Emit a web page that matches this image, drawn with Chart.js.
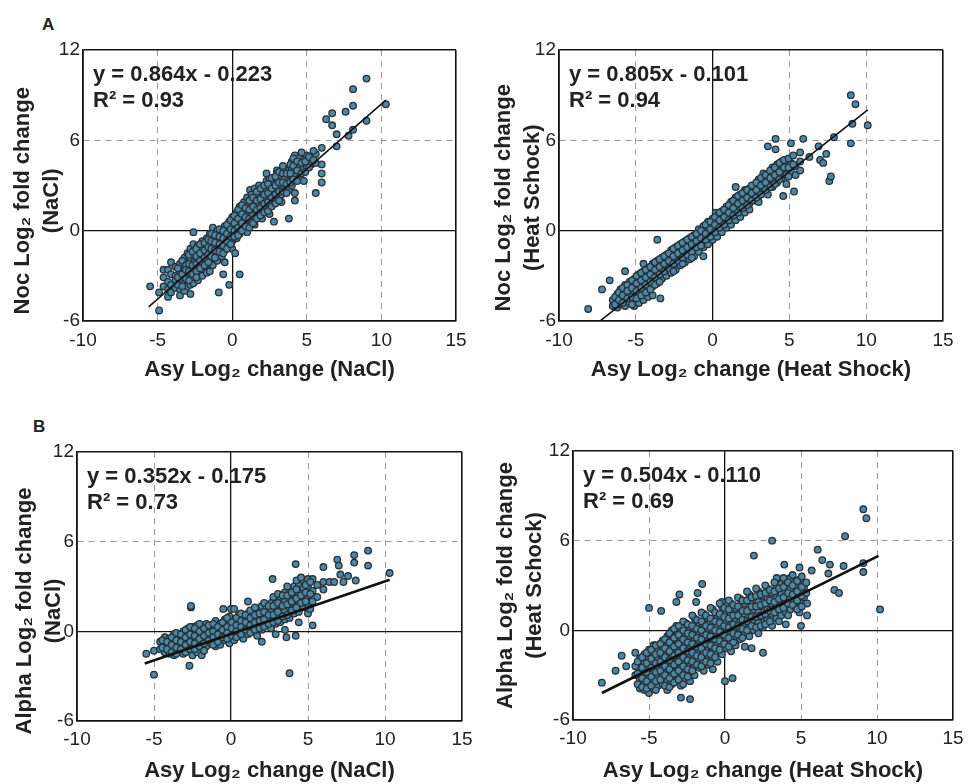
<!DOCTYPE html>
<html>
<head>
<meta charset="utf-8">
<script src="https://cdn.jsdelivr.net/npm/chart.js@4.4.1/dist/chart.umd.min.js"></script>
<style>
  body { margin: 0; background: #fff; }
  #wrap { position: relative; width: 971px; height: 784px; }
  canvas { position: absolute; }
  .tag { position: absolute; font: bold 17px "Liberation Sans", Arial, sans-serif; color: #222; }
</style>
</head>
<body>
<div id="wrap">
  <div class="tag" style="left:42px;top:15px">A</div>
  <div class="tag" style="left:33px;top:417px">B</div>
  <canvas id="nocNacl" width="480" height="392" style="left:0;top:0"></canvas>
  <canvas id="nocHeat" width="491" height="392" style="left:480px;top:0"></canvas>
  <canvas id="alphaNacl" width="480" height="392" style="left:0;top:392px"></canvas>
  <canvas id="alphaHeat" width="491" height="392" style="left:480px;top:392px"></canvas>
</div>
<script>
// axis ticks (same on all four panels)
const xTicks = [-10, -5, 0, 5, 10, 15];
const yTicks = [-6, 0, 6, 12];

// points, one row per x column: [x, y1, y2, ...]
const nocNaclPts = [
  [-5.5,-3.7],[-4.9,-5.3,-4.1],[-4.6,-3.1,-3.7,-2.6],[-4.3,-2.6,-3.4,-3.9,-4.4],[-4.1,-2.1,-2.9,-3.6,-4.1],
  [-3.8,-2.4,-3.0,-3.8,-3.3],[-3.5,-2.2,-2.7,-3.3,-3.9,-4.3],[-3.2,-1.8,-2.5,-3.0,-3.5,-4.0],[-3.0,-1.5,-2.1,-2.8,-3.3,-3.7],
  [-2.8,-1.2,-1.9,-2.4,-3.0,-3.6,-4.2],[-2.6,-0.1,-0.9,-1.6,-2.1,-2.6,-3.1,-3.5],[-2.3,-1.0,-1.4,-1.9,-2.4,-2.9,-3.3],
  [-2.0,-0.7,-1.2,-1.7,-2.2,-2.6,-3.0],[-1.7,-0.5,-1.0,-1.5,-1.9,-2.4,-2.8],[-1.5,-0.2,-0.8,-1.3,-1.7,-2.2,-2.7],
  [-1.3,0.2,-0.4,-0.9,-1.4,-1.9,-2.3],[-1.0,0.0,-0.6,-1.1,-1.6,-2.0],[-0.9,-4.1],[-0.7,-0.2,-0.7,-1.2,-1.7],[-0.6,-2.9],
  [-0.5,0.3,-0.3,-0.8,-1.3,-2.1],[-0.2,0.6,0.0,-0.5,-1.0,-3.6],[0.0,0.9,0.3,-0.2,-0.7,-1.2],[0.2,-1.5],
  [0.3,1.2,0.5,0.0,-0.5],[0.5,1.6,0.9,0.4,-0.2,-2.9],[0.8,1.9,1.3,0.7,0.2],[1.0,2.2,1.6,1.0,0.4,-0.1],[1.2,2.7],
  [1.3,2.4,1.8,1.3,0.7],[1.5,2.8,2.1,1.5,1.0,0.4],[1.8,3.0,2.5,2.3,1.7,1.2],[2.0,2.6,2.0,1.4,0.8],
  [2.3,3.8,3.3,2.7,2.1,1.5],[2.5,3.4,2.9,2.3,1.7,1.1],[2.8,3.2,2.6,2.0,0.6],[3.0,4.0,3.8,3.3,2.8,2.2],
  [3.3,3.6,3.0,2.4,1.9],[3.5,4.1,3.5,2.9],[3.8,4.0,3.3,2.7,0.8],[4.0,4.6,4.1,3.6,3.0],[4.2,5.0,4.4,3.8,2.5,2.0],
  [4.5,4.8,4.2,3.5],[4.8,4.7,4.1,3.3],[5.0,5.0,4.3],[5.3,4.8,4.4],[5.6,5.1,4.5,2.5],[6.0,5.5,3.2,3.8,4.4],
  [6.3,7.4],[6.7,7.8,7.0],[7.0,6.4,5.6],[7.6,7.9],[7.8,6.3],[8.1,9.4,8.3,6.7],[9.0,10.1,7.3],[10.3,8.4],
  [-3.65,-2.5,-3.1,-3.6],[-3.35,-2.0,-2.9,-3.7],[-3.1,-2.3,-2.6,-3.2],[-2.9,-1.6,-2.2,-2.7,-3.3],[-2.65,-1.4,-2.3,-2.9],
  [-2.4,-1.2,-1.7,-2.2,-2.7,-3.1],[-2.15,-0.9,-1.5,-2.0,-2.5],[-1.85,-0.8,-1.3,-1.8,-2.3],[-1.6,-0.6,-1.1,-1.6,-2.1],
  [-1.4,-0.2,-0.7,-1.2,-1.7],[-1.15,-0.3,-0.8,-1.3,-1.8],[-0.85,0.1,-0.4,-0.9,-1.4],[-0.6,0.0,-0.5,-1.0,-1.5],
  [-0.35,0.4,-0.2,-0.7,-1.2],[-0.1,0.7,0.1,-0.4,-0.9],[0.15,1.0,0.5,0.0,-0.4],[0.4,1.4,0.8,0.2,-0.3],
  [0.65,1.7,1.1,0.5,0.0],[0.9,1.5,0.9,0.3],[1.15,2.0,1.4,0.8,0.2],[1.4,2.2,1.6,1.0,0.5],[1.65,2.6,2.0,1.4,0.8],
  [1.9,2.8,2.1,1.5,1.0],[2.15,3.0,2.4,1.8,1.2],[2.4,3.1,2.5,1.9,1.3],[2.65,3.5,2.8,2.2,1.6],[2.9,3.6,3.0,2.4,1.8],
  [3.15,3.9,3.2,2.6,2.0],[3.4,4.3,3.8,3.2,2.6],[3.65,3.8,3.1,2.5],[3.9,4.4,3.8,3.2],[4.1,4.8,4.3,3.4],
  [4.35,4.6,4.0,3.3],[4.65,5.2,4.5,3.8],[4.9,4.6,3.9],[5.15,4.9,4.2],[5.45,5.3,4.7]
];
const nocHeatPts = [
  [-8.1,-5.2],[-7.2,-3.9],[-6.7,-3.3],[-6.5,-4.6,-5.0],[-6.2,-4.2,-4.7,-5.1],[-6.0,-3.9,-4.4,-4.9],
  [-5.7,-2.7,-3.6,-4.1,-4.6,-5.0],[-5.4,-3.4,-3.9,-4.3,-4.8],[-5.1,-3.2,-3.7,-4.1,-4.6,-5.0],[-4.8,-2.9,-3.4,-3.9,-4.3,-4.8],
  [-4.5,-2.2,-2.7,-3.2,-3.7,-4.1,-4.6],[-4.2,-2.5,-3.0,-3.5,-3.9,-4.4],[-3.9,-2.2,-2.8,-3.2,-3.7,-4.3],
  [-3.6,-0.6,-2.0,-2.5,-3.0,-3.5],[-3.4,-4.5],[-3.3,-1.8,-2.3,-2.8,-3.2],[-3.0,-1.6,-2.1,-2.6,-3.0],
  [-2.7,-1.3,-1.8,-2.3,-2.8],[-2.4,-1.1,-1.6,-2.1,-2.6],[-2.1,-0.9,-1.4,-1.9,-2.3],[-1.8,-0.7,-1.2,-1.7,-2.1],
  [-1.5,-0.5,-1.0,-1.4,-1.9],[-1.2,-0.3,-0.8,-1.2,-1.7],[-0.9,0.1,-0.5,-0.9,-1.4],[-0.6,0.3,-0.3,-0.7,-1.1,-1.7],
  [-0.3,0.6,0.0,-0.4,-0.9],[0.0,0.8,0.3,-0.2,-0.6],[0.2,1.2],[0.3,1.0,0.5,0.1,-0.4],[0.6,1.3,0.8,0.3,-0.1],
  [0.9,1.6,1.0,0.6,0.2],[1.2,1.9,1.3,0.9,0.4],[1.5,2.9,2.2,1.6,1.1,0.7],[1.8,2.4,1.9,1.4,0.9],
  [2.1,2.7,2.6,2.1,1.6,1.2],[2.4,2.8,2.3,1.8,1.4],[2.7,3.0,2.5,2.0],[3.0,3.4,2.8,2.3,1.9],[3.3,3.8,3.1,2.6],
  [3.6,5.6,3.6,3.0,2.4],[3.9,4.2,3.4,2.9],[4.1,6.1,5.4],[4.2,4.4,3.8,3.2],[4.5,4.6,4.0,3.5],[4.6,2.3],
  [4.8,4.3,3.7,3.1],[5.1,5.8,4.5,3.9],[5.3,2.6],[5.4,4.3,3.7],[5.7,5.2,4.6,4.0],[5.9,6.1],[6.3,4.9],
  [6.9,5.6],[7.0,4.7],[7.2,4.5],[7.4,5.1],[7.6,3.3],[7.7,3.6],[7.9,6.2],[9.0,9.0,5.8],[9.1,7.1],[9.3,8.4],[10.1,7.0],
  [-6.35,-4.4,-4.9],[-6.1,-4.1,-4.6],[-5.85,-3.8,-4.3,-4.8],[-5.55,-3.6,-4.0,-4.5],[-5.25,-3.3,-3.8,-4.4,-4.9],
  [-4.95,-3.0,-3.5,-4.0,-4.5],[-4.65,-2.8,-3.3,-3.8,-4.3],[-4.35,-2.6,-3.1,-3.6,-4.1],[-4.05,-2.4,-2.9,-3.4,-3.9],
  [-3.75,-2.1,-2.6,-3.1,-3.6],[-3.45,-1.9,-2.4,-2.9,-3.4],[-3.15,-1.7,-2.2,-2.7],[-2.85,-1.5,-2.0,-2.5],
  [-2.55,-1.2,-1.7,-2.2,-2.7],[-2.25,-1.0,-1.5,-2.0],[-1.95,-0.8,-1.3,-1.8,-2.2],[-1.65,-0.6,-1.1,-1.6],
  [-1.35,-0.4,-0.9,-1.4,-1.8],[-1.05,-0.2,-0.7,-1.1],[-0.75,0.0,-0.5,-1.0],[-0.45,0.4,-0.2,-0.6],[-0.15,0.6,0.1,-0.4],
  [0.15,0.9,0.4,-0.1],[0.45,1.2,0.7,0.2],[0.75,1.4,0.9,0.4],[1.05,1.7,1.2,0.7],[1.35,2.0,1.5,1.0],[1.65,2.3,1.8,1.2],
  [1.95,2.5,2.0,1.5],[2.25,2.7,2.2,1.7],[2.55,3.0,2.5,2.0],[2.85,3.2,2.7,2.2],[3.15,3.5,3.0,2.4],[3.45,3.7,3.2,2.7],
  [3.75,4.0,3.5,2.9],[4.05,4.2,3.7,3.1],[4.35,4.5,3.9,3.4],[4.65,4.7,4.2],[4.95,4.8,4.2,3.6],[5.25,5.0,4.4]
];
const alphaNaclPts = [
  [-5.5,-1.5],[-5.0,-2.9,-1.3],[-4.6,-0.7,-1.2],[-4.3,-0.4,-0.9,-1.4],[-4.0,-0.5,-1.0,-1.5],
  [-3.7,-0.2,-0.7,-1.2,-1.6],[-3.4,-0.3,-0.8,-1.3],[-3.1,0.0,-0.5,-1.0,-1.5],[-2.8,0.2,-0.3,-0.8,-1.3],
  [-2.7,-2.3],[-2.6,1.6,1.7],[-2.5,0.3,-0.1,-0.6,-1.1,-1.6],[-2.2,0.4,0.0,-0.4,-0.9,-1.4],[-1.9,0.3,-0.2,-0.7,-1.6],
  [-1.6,0.5,0.0,-0.5,-1.0],[-1.3,0.2,-0.3,-0.8],[-1.0,0.7,0.3,-0.2,-0.6,-1.0],[-0.7,0.5,0.0,-0.4,-0.9],[-0.5,1.5],
  [-0.4,0.8,0.3,-0.2,-0.6],[-0.1,1.0,0.5,0.1,-0.3,-0.8],[0.0,1.5],[0.2,1.5,0.7,0.2,-0.2,-0.6],
  [0.5,1.1,0.6,0.2,-0.3],[0.8,0.9,0.4,0.0,-0.5],[1.1,2.0,1.2,0.7,0.3,-0.2],[1.4,1.0,0.5,0.0],
  [1.7,1.4,0.9,0.4,-0.3],[2.0,1.7,1.1,0.6,0.1,-0.7],[2.3,1.5,1.0,0.4],[2.6,1.9,1.3,0.8,0.2],[2.7,3.5],
  [2.9,2.1,1.6,1.0,0.5,-0.2],[3.2,2.3,1.8,1.2,0.6],[3.5,2.6,2.0,1.4,0.8,0.1],[3.6,-0.4],
  [3.8,2.8,2.2,1.6,0.9,-2.8],[4.1,3.0,2.4,1.8,1.2],[4.2,4.5,-0.3],[4.4,3.2,2.6,2.0,1.3,0.6],
  [4.7,3.4,2.9,2.2,1.6],[5.0,3.5,3.0,2.4,1.8,1.2],[5.3,3.5,2.7,2.0,0.4],[5.6,3.1,2.3],[6.0,4.3,3.3,2.8],
  [6.4,3.3],[6.7,3.3],[6.9,4.8],[7.0,4.4],[7.1,3.8],[7.3,3.3],[7.6,3.7],[8.0,5.1,4.6],[8.1,3.4],[8.9,5.4,4.4],[10.3,3.9],
  [-4.45,-0.6,-1.1],[-4.15,-0.7,-1.2],[-3.85,-0.4,-0.9,-1.4],[-3.55,-0.1,-0.6,-1.1,-1.5],[-3.25,-0.2,-0.7,-1.2],
  [-2.95,0.1,-0.4,-0.9,-1.4],[-2.65,0.3,-0.2,-0.7,-1.2],[-2.35,0.2,-0.3,-0.8,-1.2],[-2.05,0.5,0.0,-0.5,-1.0],
  [-1.75,0.2,-0.3,-0.8,-1.3],[-1.45,0.4,-0.1,-0.6],[-1.15,0.5,0.0,-0.4,-0.9],[-0.85,0.3,-0.2,-0.7],
  [-0.55,0.6,0.1,-0.4],[-0.25,0.9,0.3,-0.1,-0.5],[0.05,0.6,0.2,-0.3],[0.35,0.9,0.4,0.0,-0.4],
  [0.65,1.2,0.7,0.3,-0.2],[0.95,1.1,0.6,0.1],[1.25,1.4,0.9,0.4,-0.1],[1.55,1.6,1.1,0.6,0.1],[1.85,1.2,0.7,0.2],
  [2.15,1.9,1.3,0.8,0.3],[2.45,1.7,1.1,0.5],[2.75,2.3,1.7,1.1,0.6],[3.05,2.5,1.9,1.3,0.7],[3.35,2.4,1.7,1.0],
  [3.65,3.0,2.4,1.8,1.1],[3.95,2.6,2.0,1.4],[4.25,3.4,2.8,2.2,1.6],[4.55,3.6,2.4,1.9],[4.85,3.1,2.6,2.0],[5.15,3.3,2.5,1.5]
];
const alphaHeatPts = [
  [-8.1,-3.5],[-7.2,-2.7],[-6.8,-1.7],[-6.5,-2.4],[-5.9,-1.5,-2.4,-3.0],[-5.6,-1.9,-2.7,-3.3,-3.9],
  [-5.3,-1.6,-2.2,-2.9,-3.5,-4.0],[-5.0,1.5,-1.3,-1.9,-2.5,-3.1,-3.7,-4.2],[-4.7,-1.0,-1.6,-2.2,-2.8,-3.4,-3.9],
  [-4.4,-1.3,-1.9,-2.5,-3.1,-3.7],[-4.2,1.3],[-4.1,-0.7,-1.3,-1.9,-2.5,-3.0,-3.6],
  [-3.8,-0.4,-1.0,-1.6,-2.2,-2.8,-3.4,-4.0],[-3.5,0.0,-0.6,-1.2,-1.8,-2.4,-3.0,-3.6],
  [-3.2,1.9,0.3,-0.4,-1.0,-1.6,-2.2,-2.8,-3.4],[-3.0,2.4],[-2.9,-0.1,-0.7,-1.3,-1.9,-2.5,-3.1,-3.7,-4.5],
  [-2.6,0.5,-0.2,-0.8,-1.4,-2.0,-2.6,-3.2],[-2.3,0.2,-0.4,-1.0,-1.6,-2.2,-2.8,-3.4,-4.6],
  [-2.0,0.8,0.1,-0.6,-1.2,-1.8,-2.4,-3.0],[-1.9,1.9],[-1.8,2.5],[-1.7,0.5,-0.1,-0.7,-1.3,-1.9,-2.5],[-1.5,3.1],
  [-1.4,1.1,0.4,-0.3,-0.9,-1.5,-2.1,-2.7],[-1.1,0.8,0.1,-0.5,-1.1,-1.7,-2.3],
  [-0.8,1.4,0.6,0.0,-0.6,-1.2,-1.8,-2.6],[-0.5,1.0,0.3,-0.3,-0.9,-1.5,-2.1],
  [-0.2,1.9,1.6,0.8,0.2,-0.4,-1.0,-1.6],[0.0,-3.4],[0.1,1.3,0.6,0.0,-0.6,-1.2],[0.4,1.8,1.1,0.4,-0.2,-0.8,-1.4],
  [0.5,-3.2],[0.7,1.5,0.8,0.2,-0.4,-1.0],[1.0,2.1,1.3,0.6,0.0,-0.6],[1.3,1.8,1.1,0.4,-0.2,-1.1],
  [1.6,2.4,1.6,0.9,0.2,-0.4],[1.9,5.0,2.1,1.4,0.7,0.0],[2.2,2.6,1.9,1.2,0.5,-0.2],[2.5,2.3,1.6,0.9,0.2,-1.5],
  [2.8,2.8,2.1,1.4,0.7],[3.1,6.0,2.5,1.8,1.1,0.3],[3.4,3.5,2.9,2.2,1.5,0.8],[3.7,3.1,2.4,1.7,1.0],[3.9,4.4],
  [4.0,3.3,2.6,1.9,1.2,0.4],[4.3,3.5,2.8,2.1,1.4],[4.6,3.0,2.3,1.6],[4.9,4.2,3.4,2.6,1.9,1.2],[5.0,0.3],
  [5.2,2.9,2.2],[5.4,1.8,1.0],[5.7,4.0],[6.1,5.4],[6.4,4.7],[6.8,3.8],[6.9,4.4],[7.2,2.7],[7.5,2.5],
  [7.8,4.3],[7.9,6.3],[9.1,8.1,4.5,3.9],[9.3,7.5],[10.2,1.4],
  [-5.75,-2.1,-2.9,-3.6],[-5.45,-1.8,-2.5,-3.2,-3.8],[-5.15,-1.5,-2.2,-2.8,-3.4,-3.9],[-4.85,-1.3,-1.9,-2.5,-3.1,-3.7],
  [-4.55,-1.0,-1.6,-2.2,-2.8,-3.4,-4.0],[-4.25,-0.9,-1.5,-2.1,-2.7,-3.3],[-3.95,-0.6,-1.2,-1.8,-2.4,-3.0,-3.7],
  [-3.65,-0.2,-0.8,-1.4,-2.0,-2.6,-3.2,-3.8],[-3.35,0.1,-0.5,-1.1,-1.7,-2.3,-2.9,-3.5],
  [-3.05,0.3,-0.3,-0.9,-1.5,-2.1,-2.7,-3.3],[-2.75,0.6,0.0,-0.6,-1.2,-1.8,-2.4,-3.0,-3.6],
  [-2.45,0.4,-0.2,-0.8,-1.4,-2.0,-2.6,-3.1],[-2.15,1.0,0.3,-0.3,-0.9,-1.5,-2.1,-2.7],
  [-1.85,0.7,0.1,-0.5,-1.1,-1.7,-2.3],[-1.55,1.2,0.6,0.0,-0.6,-1.2,-1.8,-2.4],[-1.25,1.0,0.3,-0.3,-0.9,-1.5,-2.1],
  [-0.95,1.5,0.8,0.2,-0.4,-1.0,-1.6,-2.2],[-0.65,1.2,0.6,0.0,-0.6,-1.2,-1.8],[-0.35,1.8,1.1,0.5,-0.1,-0.7,-1.3],
  [-0.05,1.5,0.9,0.3,-0.3,-0.9],[0.25,2.0,1.4,0.8,0.2,-0.5,-1.1],[0.55,1.7,1.0,0.4,-0.2,-0.8],
  [0.85,2.2,1.6,1.0,0.3,-0.3],[1.15,2.0,1.3,0.7,0.1,-0.5],[1.45,2.6,2.0,1.3,0.6,0.0],[1.75,2.2,1.6,0.9,0.3,-1.2],
  [2.05,2.8,2.3,1.6,0.9,0.2],[2.35,2.4,1.7,1.0,0.3],[2.65,3.0,2.5,1.8,1.1,0.4],[2.95,2.7,2.0,1.3,0.6],
  [3.25,3.2,2.6,1.9,1.2],[3.55,2.8,2.1,1.4,0.6],[3.85,3.5,2.9,2.2,1.5],[4.15,3.2,2.5,1.8,1.0],
  [4.45,3.7,3.0,2.4,1.7],[4.75,3.3,2.6,2.0,1.4],[5.05,3.6,2.9,2.3,1.6],[5.35,3.2,2.5]
];

// regression lines as printed on the panels
const fitSlopes = [0.864, 0.805, 0.352, 0.504];
const fitIntercepts = [-0.223, -0.101, -0.175, -0.110];
const fitRanges = [[-5.6, 10.3], [-7.3, 10.1], [-5.6, 10.3], [-8.1, 10.1]];
const r2Values = ['0.93', '0.94', '0.73', '0.69'];

const xTitles = ['Asy Log\u2082 change (NaCl)', 'Asy Log\u2082 change (Heat Shock)',
                 'Asy Log\u2082 change (NaCl)', 'Asy Log\u2082 change (Heat Shock)'];
const yTitles = [['Noc Log\u2082 fold change', '(NaCl)'], ['Noc Log\u2082 fold change', '(Heat Schock)'],
                 ['Alpha Log\u2082 fold change', '(NaCl)'], ['Alpha Log\u2082 fold change', '(Heat Schock)']];

// per-panel layout: layout padding, axis box sizes, title nudges
const panels = [
  { id: 'nocNacl',   pts: nocNaclPts,   pad: {left: 4, top: 50, right: 24, bottom: 4}, yw: 79, xh: 67, xtp: 5, ytp: 5, tickPad: 8, shift: 5, lw: 1.6 },
  { id: 'nocHeat',   pts: nocHeatPts,   pad: {left: 4, top: 50, right: 28, bottom: 4}, yw: 75, xh: 67, xtp: 5, ytp: 6, tickPad: 8, shift: 4, lw: 1.6 },
  { id: 'alphaNacl', pts: alphaNaclPts, pad: {left: 4, top: 60, right: 18, bottom: 0}, yw: 73, xh: 63, xtp: 0, ytp: 7, tickPad: 7, shift: 8, lw: 2.6 },
  { id: 'alphaHeat', pts: alphaHeatPts, pad: {left: 4, top: 59, right: 18, bottom: 0}, yw: 89, xh: 64, xtp: 0, ytp: 8, tickPad: 7, shift: 0, lw: 2.6 },
];

const sans = '"Liberation Sans", Arial, Helvetica, sans-serif';

const eqPlugin = {
  id: 'eqText',
  afterDatasetsDraw(chart, args, opts) {
    const { ctx, chartArea } = chart;
    ctx.save();
    ctx.font = 'bold 22px ' + sans;
    ctx.fillStyle = '#222';
    ctx.textBaseline = 'middle';
    ctx.fillText(opts.eq, chartArea.left + 10, chartArea.top + 25);
    ctx.fillText(opts.r2, chartArea.left + 10, chartArea.top + 51);
    ctx.restore();
  }
};

function lineColor(c) {
  const v = c.tick ? c.tick.value : null;
  if (v === 0 || v === c.scale.min || v === c.scale.max) return '#111';
  return '#9a9a9a';
}
function lineWidth(c) {
  const v = c.tick ? c.tick.value : null;
  if (v === c.scale.min || v === c.scale.max) return 1.6;
  if (v === 0) return 1.3;
  return 1;
}
function lineDash(c) {
  if (!c.tick) return [];
  const v = c.tick.value;
  if (v === 0 || v === c.scale.min || v === c.scale.max) return [];
  return [6, 5];
}

panels.forEach((p, i) => {
  const points = [];
  p.pts.forEach(row => {
    for (let k = 1; k < row.length; k++) points.push({ x: row[0], y: row[k] });
  });
  const fit = fitRanges[i].map(x => ({ x: x, y: fitSlopes[i] * x + fitIntercepts[i] }));
  const sign = fitIntercepts[i] < 0 ? ' - ' : ' + ';
  const eq = 'y = ' + fitSlopes[i].toFixed(3) + 'x' + sign + Math.abs(fitIntercepts[i]).toFixed(3);
  const pad = ' '.repeat(p.shift); // nudges the rotated title down a bit

  new Chart(document.getElementById(p.id), {
    type: 'scatter',
    data: {
      datasets: [
        {
          data: fit, showLine: true, pointRadius: 0, borderColor: '#111',
          borderWidth: p.lw, order: 0
        },
        {
          data: points, pointRadius: 3.3, pointBorderWidth: 1.3,
          backgroundColor: '#4f86a3', borderColor: '#263238', order: 1
        }
      ]
    },
    options: {
      responsive: false,
      animation: false,
      layout: { padding: p.pad },
      plugins: {
        legend: { display: false },
        tooltip: { enabled: false },
        eqText: { eq: eq, r2: 'R\u00b2 = ' + r2Values[i] }
      },
      scales: {
        x: {
          type: 'linear', min: -10, max: 15,
          afterBuildTicks: s => { s.ticks = xTicks.map(v => ({ value: v })); },
          afterFit: s => { s.height = p.xh; },
          ticks: { padding: p.tickPad, color: '#222', font: { family: sans, size: 19 } },
          grid: { drawTicks: false, color: lineColor, lineWidth: lineWidth },
          border: { color: '#111', width: 1.6, dash: lineDash },
          title: {
            display: true, text: xTitles[i], color: '#222',
            font: { family: sans, size: 22, weight: 'bold', lineHeight: 1.2 },
            padding: { top: 0, bottom: p.xtp }
          }
        },
        y: {
          type: 'linear', min: -6, max: 12,
          afterBuildTicks: s => { s.ticks = yTicks.map(v => ({ value: v })); },
          afterFit: s => { s.width = p.yw; },
          ticks: { padding: 3, color: '#222', font: { family: sans, size: 19 } },
          grid: { drawTicks: false, color: lineColor, lineWidth: lineWidth },
          border: { color: '#111', width: 1.6, dash: lineDash },
          title: {
            display: true, text: yTitles[i].map(t => t + pad), color: '#222',
            font: { family: sans, size: 22, weight: 'bold', lineHeight: 1.3 },
            padding: { top: p.ytp, bottom: 0 }
          }
        }
      }
    },
    plugins: [eqPlugin]
  });
});
</script>
</body>
</html>
